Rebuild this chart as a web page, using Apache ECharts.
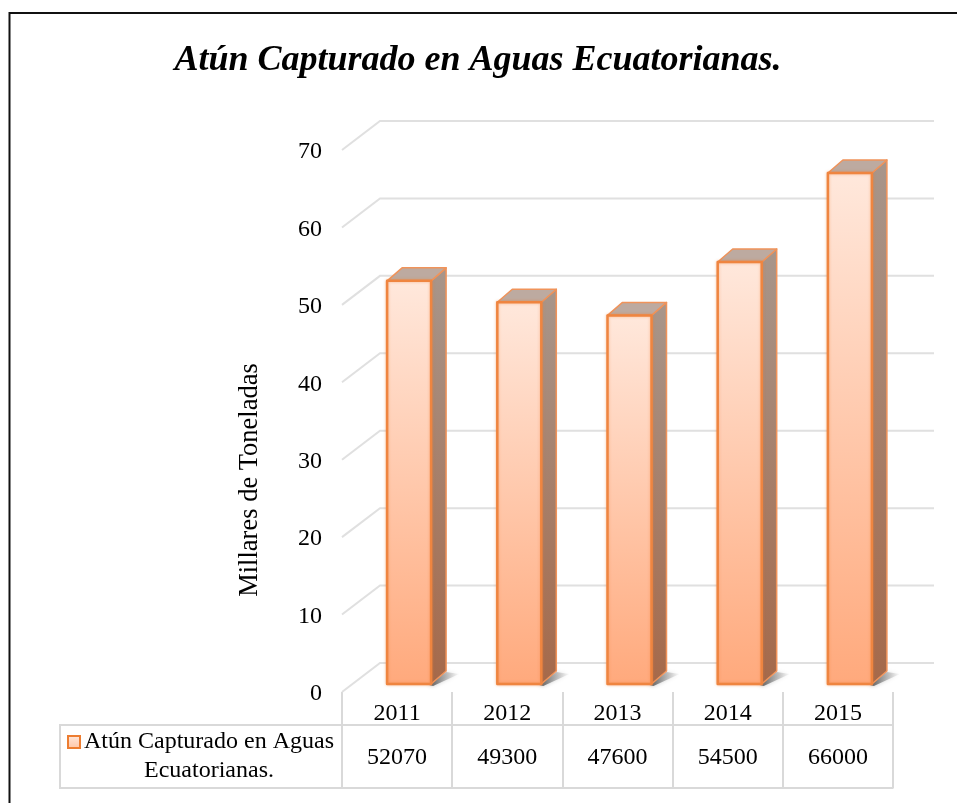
<!DOCTYPE html>
<html>
<head>
<meta charset="utf-8">
<style>html,body{margin:0;padding:0;background:#fff}#chart{width:957px;height:803px}</style>
<script src="https://cdn.jsdelivr.net/npm/echarts@6/dist/echarts.min.js"></script>
</head>
<body>
<div id="chart"></div>
<script>
var years = ['2011', '2012', '2013', '2014', '2015'];
var toneladas = [52070, 49300, 47600, 54500, 66000];
var yTicks = [0, 10, 20, 30, 40, 50, 60, 70];
var tituloTexto = 'Atún Capturado en Aguas Ecuatorianas.';
var serieNombre = ['Atún Capturado en Aguas', 'Ecuatorianas.'];

var serif = '"Liberation Serif", "Times New Roman", serif';
var myChart = echarts.init(document.getElementById('chart'));

var millares = toneladas.map(function (v) { return v / 1000; });

// 3d look: how far the back wall and the bars are pushed from the front plane
var wallDx = 38, wallDy = -29;
var barDx = 12, barDy = -8;
var depthX = 15, depthY = -13;
var barW = 44;

function renderWall(params, api) {
    var y = api.coord([0, api.value(0)])[1];
    var x0 = params.coordSys.x;
    return {
        type: 'polyline',
        silent: true,
        shape: { points: [[x0, y], [x0 + wallDx, y + wallDy], [934, y + wallDy]] },
        style: { stroke: '#e0e0e0', lineWidth: 2, fill: null }
    };
}

function renderBar(params, api) {
    var top = api.coord([api.value(0), api.value(1)]);
    var base = api.coord([api.value(0), 0]);
    var x = top[0] + barDx - barW / 2;
    var yT = top[1] + barDy;
    var yB = base[1] + barDy;
    var edge = { stroke: '#ef8540', lineWidth: 2.5, lineJoin: 'round', shadowBlur: 3, shadowColor: 'rgba(237,125,49,0.45)' };
    var thin = { stroke: '#f0935a', lineWidth: 1.5, lineJoin: 'round' };
    var r = x + barW;
    return {
        type: 'group',
        children: [{
            type: 'polygon',
            shape: { points: [[r - 2, yB + 1], [r + depthX, yB + depthY + 1], [r + depthX + 13, yB + depthY + 3], [r + 2, yB + 2]] },
            style: {
                fill: new echarts.graphic.LinearGradient(0, 0, 1, 0, [
                    { offset: 0, color: 'rgba(70,70,70,0.9)' },
                    { offset: 1, color: 'rgba(150,150,150,0.05)' }
                ]),
                shadowBlur: 4,
                shadowColor: 'rgba(100,100,100,0.5)'
            }
        }, {
            type: 'polygon',
            shape: { points: [[r, yT], [r + depthX, yT + depthY], [r + depthX, yB + depthY], [r, yB]] },
            style: Object.assign({
                fill: new echarts.graphic.LinearGradient(0, 0, 0, 1, [
                    { offset: 0, color: '#a8968b' },
                    { offset: 1, color: '#a5694a' }
                ])
            }, thin)
        }, {
            type: 'polygon',
            shape: { points: [[x, yT], [x + depthX, yT + depthY], [r + depthX, yT + depthY], [r, yT]] },
            style: Object.assign({ fill: '#bdaaa0' }, thin)
        }, {
            type: 'rect',
            shape: { x: x, y: yT, width: barW, height: yB - yT },
            style: Object.assign({
                fill: new echarts.graphic.LinearGradient(0, 0, 0, 1, [
                    { offset: 0, color: '#ffe8dc' },
                    { offset: 1, color: '#ffa97c' }
                ])
            }, edge)
        }]
    };
}

var tableLine = { stroke: '#d9d9d9', lineWidth: 2 };

option = {
    animation: false,
    backgroundColor: '#fff',
    title: {
        text: tituloTexto,
        left: 473,
        top: 38,
        textAlign: 'center',
        textStyle: { fontFamily: serif, fontSize: 36, fontWeight: 'bold', fontStyle: 'italic', color: '#000' }
    },
    grid: { left: 342, right: 64, top: 150, bottom: 111 },
    xAxis: [{
        type: 'category',
        data: years,
        position: 'bottom',
        axisLine: { show: false },
        axisTick: { show: true, length: 33, lineStyle: { color: '#d9d9d9', width: 2 } },
        axisLabel: { fontFamily: serif, fontSize: 24, color: '#000', margin: 10 }
    }, {
        // second row of the data table
        type: 'category',
        data: years,
        position: 'bottom',
        offset: 33,
        axisLine: { show: true, lineStyle: { color: '#d9d9d9', width: 2 } },
        axisTick: { show: true, length: 63, lineStyle: { color: '#d9d9d9', width: 2 } },
        axisLabel: {
            fontFamily: serif, fontSize: 24, color: '#000', margin: 21,
            formatter: function (v, i) { return toneladas[i]; }
        }
    }],
    yAxis: {
        type: 'value',
        min: 0,
        max: 70,
        interval: 10,
        name: 'Millares de Toneladas',
        nameLocation: 'middle',
        nameGap: 78,
        nameTextStyle: { fontFamily: serif, fontSize: 26.5, color: '#000', padding: [0, 118, 0, 0] },
        axisLine: { show: false },
        axisTick: { show: false },
        splitLine: { show: false },
        axisLabel: {
            margin: 20,
            formatter: '{n|{value}}',
            rich: { n: { fontFamily: serif, fontSize: 24, color: '#000', padding: [4, 0, 0, 0] } }
        }
    },
    series: [{
        type: 'custom',
        name: 'pared',
        clip: false,
        silent: true,
        renderItem: renderWall,
        encode: { y: 0 },
        data: yTicks.map(function (v) { return [v]; })
    }, {
        type: 'custom',
        name: serieNombre.join(' '),
        clip: false,
        renderItem: renderBar,
        encode: { x: 0, y: 1 },
        data: millares.map(function (v, i) { return [i, v]; })
    }],
    graphic: [
        // outer frame, only left and top are inside the picture
        { type: 'polyline', shape: { points: [[9.5, 810], [9.5, 13], [960, 13]] }, style: { stroke: '#111', lineWidth: 2, fill: null } },
        // legend cell of the table
        { type: 'polyline', shape: { points: [[342, 725], [60, 725], [60, 788], [893.5, 788]] }, style: Object.assign({ fill: null }, tableLine) },
        {
            type: 'rect',
            shape: { x: 68, y: 736, width: 12, height: 12 },
            style: {
                stroke: '#ed7d31', lineWidth: 2,
                fill: new echarts.graphic.LinearGradient(0, 0, 0, 1, [
                    { offset: 0, color: '#ffe8dc' },
                    { offset: 1, color: '#ffc4a4' }
                ])
            }
        },
        { type: 'text', style: { x: 209, y: 742, text: serieNombre[0], font: '24px ' + serif, fill: '#000', textAlign: 'center', textVerticalAlign: 'middle' } },
        { type: 'text', style: { x: 209, y: 771, text: serieNombre[1], font: '24px ' + serif, fill: '#000', textAlign: 'center', textVerticalAlign: 'middle' } }
    ]
};

myChart.setOption(option);
</script>
</body>
</html>
